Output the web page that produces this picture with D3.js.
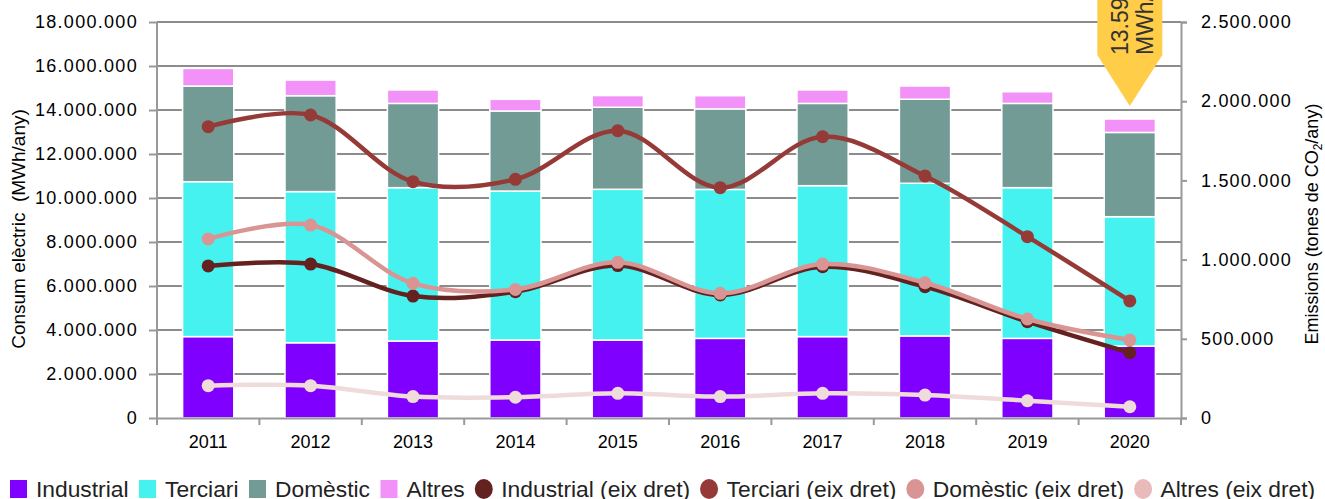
<!DOCTYPE html>
<html lang="ca">
<head>
<meta charset="utf-8">
<title>Consum elèctric i emissions</title>
<script src="https://d3js.org/d3.v7.min.js"></script>
<style>
  body { margin: 0; background: #fff; }
  svg { display: block; font-family: "Liberation Sans", Arial, sans-serif; }
</style>
</head>
<body>
<script>
// data
const years = ["2011", "2012", "2013", "2014", "2015", "2016", "2017", "2018", "2019", "2020"];

// consum elèctric (MWh/any), stacked bars
const industrial = [3700000, 3420000, 3500000, 3545000, 3545000, 3620000, 3700000, 3730000, 3620000, 3270000];
const terciari   = [7040000, 6870000, 6970000, 6770000, 6850000, 6770000, 6860000, 6940000, 6850000, 5880000];
const domestic   = [4350000, 4360000, 3830000, 3640000, 3730000, 3660000, 3740000, 3820000, 3830000, 3830000];
const altres     = [800000, 710000, 610000, 530000, 530000, 600000, 610000, 600000, 530000, 610000];

// emissions (tones CO2/any), right axis
const emIndustrial = [960000, 972000, 770000, 797000, 962000, 777000, 955000, 829000, 608000, 412000];
const emTerciari   = [1839000, 1913000, 1492000, 1507000, 1814000, 1454000, 1776000, 1528000, 1145000, 739000];
const emDomestic   = [1130000, 1218000, 850000, 812000, 983000, 787000, 972000, 854000, 625000, 492000];
const emAltres     = [204000, 204000, 135000, 131000, 156000, 135000, 156000, 145000, 109000, 71000];

const leftTicks = [0, 2000000, 4000000, 6000000, 8000000, 10000000, 12000000, 14000000, 16000000, 18000000];
const rightTicks = [0, 500000, 1000000, 1500000, 2000000, 2500000];

const barSeries = [
  {name: "Industrial", values: industrial, color: "#8000ff"},
  {name: "Terciari", values: terciari, color: "#45f2ef"},
  {name: "Domèstic", values: domestic, color: "#739b95"},
  {name: "Altres", values: altres, color: "#f291f7"}
];
const lineSeries = [
  {name: "Industrial (eix dret)", values: emIndustrial, color: "#632220", legend: "#632220"},
  {name: "Terciari (eix dret)", values: emTerciari, color: "#953a36", legend: "#953a36"},
  {name: "Domèstic (eix dret)", values: emDomestic, color: "#d99593", legend: "#d99593"},
  {name: "Altres (eix dret)", values: emAltres, color: "#f0dbdb", legend: "#e8baba"}
];

const w = 1325, h = 499;
const plotL = 157, plotR = 1181, plotT = 22, plotB = 418;

const locale = d3.formatLocale({decimal: ",", thousands: ".", grouping: [3], currency: ["", ""]});
const fmt = locale.format(",.0f");

const svg = d3.select("body").append("svg")
  .attr("width", w)
  .attr("height", h);

const x = d3.scaleBand().domain(years).range([plotL, plotR]).paddingInner(0.5).paddingOuter(0.25);
const yL = d3.scaleLinear().domain([0, 18000000]).range([plotB, plotT]);
const yR = d3.scaleLinear().domain([0, 2500000]).range([plotB, plotT]);

// gridlines
svg.append("g")
  .selectAll("line")
  .data(leftTicks.filter(d => d > 0))
  .join("line")
  .attr("x1", plotL).attr("x2", plotR)
  .attr("y1", d => yL(d)).attr("y2", d => yL(d))
  .attr("stroke", "#8c8c8c")
  .attr("stroke-width", 2);

// stacked bars
const rows = years.map((yr, i) => {
  const r = {year: yr};
  barSeries.forEach(s => r[s.name] = s.values[i]);
  return r;
});
const stack = d3.stack().keys(barSeries.map(s => s.name))(rows);

svg.append("g")
  .selectAll("g")
  .data(stack)
  .join("g")
  .attr("fill", (d, i) => barSeries[i].color)
  .selectAll("rect")
  .data(d => d)
  .join("rect")
  .attr("x", d => x(d.data.year))
  .attr("width", x.bandwidth())
  .attr("y", d => yL(d[1]))
  .attr("height", d => yL(d[0]) - yL(d[1]))
  .attr("stroke", "#fff")
  .attr("stroke-width", 1.5);

// axes
const axisL = svg.append("g")
  .attr("transform", `translate(${plotL},0)`)
  .call(d3.axisLeft(yL).tickValues(leftTicks).tickFormat(fmt).tickSize(8).tickPadding(11));
const axisR = svg.append("g")
  .attr("transform", `translate(${plotR},0)`)
  .call(d3.axisRight(yR).tickValues(rightTicks).tickFormat(fmt).tickSize(6).tickPadding(14));
const axisB = svg.append("g")
  .attr("transform", `translate(0,${plotB})`)
  .call(d3.axisBottom(x).tickSize(0).tickPadding(17));

[axisL, axisR, axisB].forEach(a => {
  a.select(".domain").attr("stroke", "#999").attr("stroke-width", 2);
  a.selectAll(".tick line").attr("stroke", "#999").attr("stroke-width", 2);
  a.selectAll("text")
    .attr("fill", "#000")
    .attr("font-size", 18)
    .attr("font-family", "Liberation Sans, Arial, sans-serif");
});
axisL.selectAll("text").attr("letter-spacing", 1.3);
axisR.selectAll("text").attr("letter-spacing", 1.2);
axisL.select(".domain").attr("d", `M0,${plotB + 4}V${plotT}`);

// boundary ticks on the category axis
const edges = years.map(yr => x(yr) - x.step() * x.paddingInner() / 2).concat([plotR]);
axisB.selectAll(".edge")
  .data(edges)
  .join("line")
  .attr("class", "edge")
  .attr("x1", d => d).attr("x2", d => d)
  .attr("y1", 0).attr("y2", 7)
  .attr("stroke", "#999")
  .attr("stroke-width", 2);

// axis titles
svg.append("text")
  .attr("transform", `translate(25,${(plotT + plotB) / 2 + 9}) rotate(-90)`)
  .attr("text-anchor", "middle")
  .attr("font-size", 19)
  .attr("fill", "#000")
  .attr("xml:space", "preserve")
  .text("Consum elèctric  (MWh/any)");

const rt = svg.append("text")
  .attr("transform", `translate(1318,${(plotT + plotB) / 2 + 4}) rotate(-90)`)
  .attr("text-anchor", "middle")
  .attr("font-size", 18)
  .attr("fill", "#000");
rt.append("tspan").text("Emissions (tones de CO");
rt.append("tspan").attr("font-size", 12).attr("dy", 4).text("2");
rt.append("tspan").attr("dy", -4).text("/any)");

// emission lines
const line = d3.line()
  .x((d, i) => x(years[i]) + x.bandwidth() / 2)
  .y(d => yR(d))
  .curve(d3.curveCatmullRom.alpha(0.5));

lineSeries.forEach(s => {
  const g = svg.append("g");
  g.append("path")
    .attr("d", line(s.values))
    .attr("fill", "none")
    .attr("stroke", s.color)
    .attr("stroke-width", 4.5);
  g.selectAll("circle")
    .data(s.values)
    .join("circle")
    .attr("cx", (d, i) => x(years[i]) + x.bandwidth() / 2)
    .attr("cy", d => yR(d))
    .attr("r", 6.5)
    .attr("fill", s.color);
});

// callout over the last bar
const lastIdx = years.length - 1;
const total = barSeries.reduce((acc, s) => acc + s.values[lastIdx], 0);
const cx = x(years[lastIdx]) + x.bandwidth() / 2;
const tipY = yL(total) - 13;
const halfW = 32.5;
svg.append("path")
  .attr("d", `M${cx - halfW},-5 H${cx + halfW} V${tipY - 51} L${cx},${tipY} L${cx - halfW},${tipY - 51} Z`)
  .attr("fill", "#ffcd47");
const callout = svg.append("text")
  .attr("transform", `translate(${cx},${tipY - 51}) rotate(-90)`)
  .attr("font-size", 23)
  .attr("fill", "#333");
callout.append("tspan").attr("x", 0).attr("y", -2).text(fmt(total));
callout.append("tspan").attr("x", 0).attr("y", 23).text("MWh/any");

// legend
const legend = svg.append("g").attr("font-size", 22.8).attr("fill", "#222");
const items = barSeries.map(s => ({name: s.name, color: s.color, shape: "rect"}))
  .concat(lineSeries.map(s => ({name: s.name, color: s.legend, shape: "circle"})));
let lx = 10;
const ly = 489;
items.forEach(it => {
  if (it.shape === "rect") {
    legend.append("rect").attr("x", lx).attr("y", ly - 9).attr("width", 17).attr("height", 18).attr("fill", it.color);
  } else {
    legend.append("ellipse").attr("cx", lx + 8.5).attr("cy", ly).attr("rx", 9).attr("ry", 10).attr("fill", it.color);
  }
  const t = legend.append("text")
    .attr("x", lx + 26)
    .attr("y", ly + 8)
    .text(it.name);
  lx += 26 + t.node().getComputedTextLength() + 10.5;
});
</script>
</body>
</html>
